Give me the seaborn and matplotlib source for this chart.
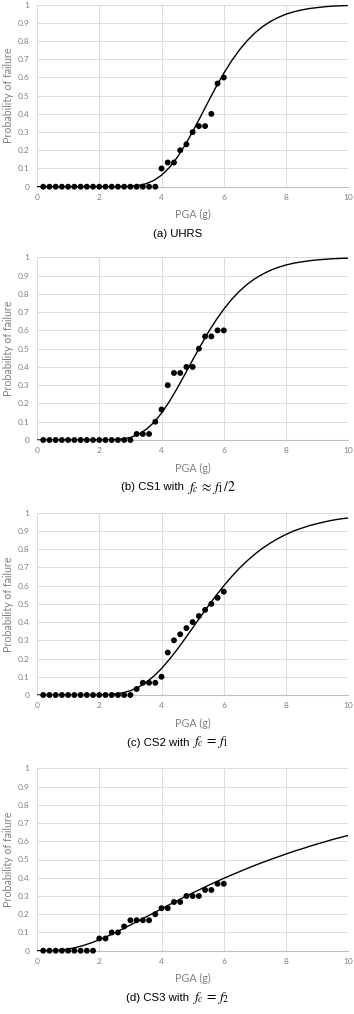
import numpy as np
import pandas as pd
import matplotlib
matplotlib.use("Agg")
import matplotlib.pyplot as plt
import seaborn as sns

# observed fraction of failures at each PGA level
pga = [0.2, 0.4, 0.6, 0.8, 1.0, 1.2, 1.4, 1.6, 1.8, 2.0,
       2.2, 2.4, 2.6, 2.8, 3.0, 3.2, 3.4, 3.6, 3.8, 4.0,
       4.2, 4.4, 4.6, 4.8, 5.0, 5.2, 5.4, 5.6, 5.8, 6.0]

obs_uhrs = [0] * 19 + [0.1, 0.133, 0.133, 0.2, 0.233, 0.3, 0.333, 0.333, 0.4, 0.567, 0.6]
obs_cs1 = [0] * 15 + [0.033, 0.033, 0.033, 0.1, 0.167, 0.3, 0.367, 0.367, 0.4, 0.4,
                      0.5, 0.567, 0.567, 0.6, 0.6]
obs_cs2 = [0] * 15 + [0.033, 0.067, 0.067, 0.067, 0.1, 0.233, 0.3, 0.333, 0.367, 0.4,
                      0.433, 0.467, 0.5, 0.533, 0.567]
obs_cs3 = [0] * 9 + [0.067, 0.067, 0.1, 0.1, 0.133, 0.167, 0.167, 0.167, 0.167, 0.2,
                     0.233, 0.233, 0.267, 0.267, 0.3, 0.3, 0.3, 0.333, 0.333, 0.367, 0.367]

# fitted fragility curves, every 0.25 g
curve_pga = [0.0, 0.25, 0.5, 0.75, 1.0, 1.25, 1.5, 1.75, 2.0, 2.25,
             2.5, 2.75, 3.0, 3.25, 3.5, 3.75, 4.0, 4.25, 4.5, 4.75,
             5.0, 5.25, 5.5, 5.75, 6.0, 6.25, 6.5, 6.75, 7.0, 7.25,
             7.5, 7.75, 8.0, 8.25, 8.5, 8.75, 9.0, 9.25, 9.5, 9.75, 10.0]

fit_uhrs = [0, 0, 0, 0, 0, 0, 0, 0, 0, 0,
            0.0001, 0.0006, 0.0023, 0.0067, 0.0163, 0.0342, 0.063, 0.105, 0.160, 0.227,
            0.303, 0.384, 0.467, 0.548, 0.623, 0.691, 0.751, 0.802, 0.845, 0.880,
            0.908, 0.930, 0.948, 0.961, 0.971, 0.979, 0.984, 0.989, 0.992, 0.994, 0.996]
fit_cs1 = [0, 0, 0, 0, 0, 0, 0, 0, 0.0001, 0.0004,
           0.0017, 0.0054, 0.0139, 0.030, 0.057, 0.095, 0.147, 0.210, 0.282, 0.359,
           0.438, 0.515, 0.589, 0.656, 0.716, 0.769, 0.814, 0.852, 0.883, 0.908,
           0.929, 0.945, 0.958, 0.968, 0.975, 0.981, 0.986, 0.989, 0.992, 0.994, 0.995]
fit_cs2 = [0, 0, 0, 0, 0, 0, 0, 0.0001, 0.0005, 0.0018,
           0.0050, 0.0118, 0.0236, 0.042, 0.0685, 0.103, 0.145, 0.195, 0.249, 0.308,
           0.368, 0.429, 0.488, 0.545, 0.599, 0.649, 0.695, 0.736, 0.773, 0.806,
           0.834, 0.859, 0.881, 0.900, 0.915, 0.929, 0.940, 0.950, 0.959, 0.966, 0.971]
fit_cs3 = [0, 0, 0.0007, 0.0034, 0.0089, 0.0175, 0.0292, 0.0434, 0.060, 0.078,
           0.098, 0.119, 0.141, 0.163, 0.185, 0.207, 0.230, 0.252, 0.274, 0.296,
           0.317, 0.337, 0.358, 0.377, 0.397, 0.415, 0.433, 0.451, 0.468, 0.484,
           0.500, 0.515, 0.530, 0.545, 0.558, 0.572, 0.585, 0.597, 0.610, 0.621, 0.632]

# caption = plain part + math part
cap_text = ["(a) UHRS", "(b) CS1 with", "(c) CS2 with", "(d) CS3 with"]
cap_math = ["", r"$f_c\,\approx\,f_1/2$", r"$f_c\,=\,f_1$", r"$f_c\,=\,f_2$"]

panels = [(obs_uhrs, fit_uhrs), (obs_cs1, fit_cs1), (obs_cs2, fit_cs2), (obs_cs3, fit_cs3)]

sns.set_theme(style="white")
plt.rcParams['font.family'] = ['Lato', 'DejaVu Sans']
plt.rcParams['mathtext.fontset'] = 'stix'

W, H = 354, 1014
fig = plt.figure(figsize=(W / 100, H / 100), dpi=100)
renderer = fig.canvas.get_renderer()

# pixel geometry of each panel: (top of plot, bottom of plot)
rows = [(4.7, 186.7), (257.3, 440.0), (512.7, 695.0), (768.3, 950.7)]
left, right = 37.0, 348.3
grey = "#808080"

for (obs, fit), txt, mth, (top, bot) in zip(panels, cap_text, cap_math, rows):
    ax = fig.add_axes([left / W, 1 - bot / H, (right - left) / W, (bot - top) / H])
    df_obs = pd.DataFrame({"pga": pga, "pf": obs})
    df_fit = pd.DataFrame({"pga": curve_pga, "pf": fit})

    sns.lineplot(data=df_fit, x="pga", y="pf", ax=ax, color="black", lw=1.0, zorder=3)
    sns.scatterplot(data=df_obs, x="pga", y="pf", ax=ax, color="black", s=18,
                    edgecolor="none", zorder=4, clip_on=False)

    ax.set_xlim(0, 10)
    ax.set_ylim(0, 1)
    ax.set_xticks(np.arange(0, 11, 2))
    ax.set_yticks(np.round(np.arange(0, 1.01, 0.1), 1))
    ax.set_yticklabels(["0", "0.1", "0.2", "0.3", "0.4", "0.5", "0.6", "0.7", "0.8", "0.9", "1"])
    ax.grid(True, color="#dcdcdc", lw=0.7)
    for side in ["top", "right", "left"]:
        ax.spines[side].set_visible(False)
    ax.spines["bottom"].set_color("#bfbfbf")
    ax.spines["bottom"].set_linewidth(0.8)
    ax.tick_params(axis="both", length=0, labelsize=6, labelcolor=grey)
    ax.tick_params(axis="y", pad=5.5)
    ax.tick_params(axis="x", pad=5)
    ax.set_xlabel("")
    ax.set_ylabel("")

    fig.text((left + right) / 2 / W, 1 - (bot + 28) / H, "PGA (g)", ha="center", va="center",
             fontsize=7.7, color=grey)
    fig.text(8.5 / W, 1 - (top + bot) / 2 / H, "Probability of failure", rotation=90,
             ha="center", va="center", fontsize=7.7, color=grey)

    # caption: Arial-like text followed by a larger Times-like math part, centred together
    y_cap = 1 - (bot + 50.5) / H
    t1 = fig.text(0, y_cap, txt, ha="left", va="baseline", fontsize=8.2,
                  color="black", family=["Liberation Sans", "DejaVu Sans"])
    w1 = t1.get_window_extent(renderer).width
    w2, gap = 0, 0
    t2 = None
    if mth:
        gap = 3
        t2 = fig.text(0, y_cap, mth, ha="left", va="baseline", fontsize=9.8, color="black")
        w2 = t2.get_window_extent(renderer).width
    x0 = 178 - (w1 + gap + w2) / 2
    t1.set_x(x0 / W)
    if t2 is not None:
        t2.set_x((x0 + w1 + gap) / W)

fig.savefig("out.png", dpi=100)
